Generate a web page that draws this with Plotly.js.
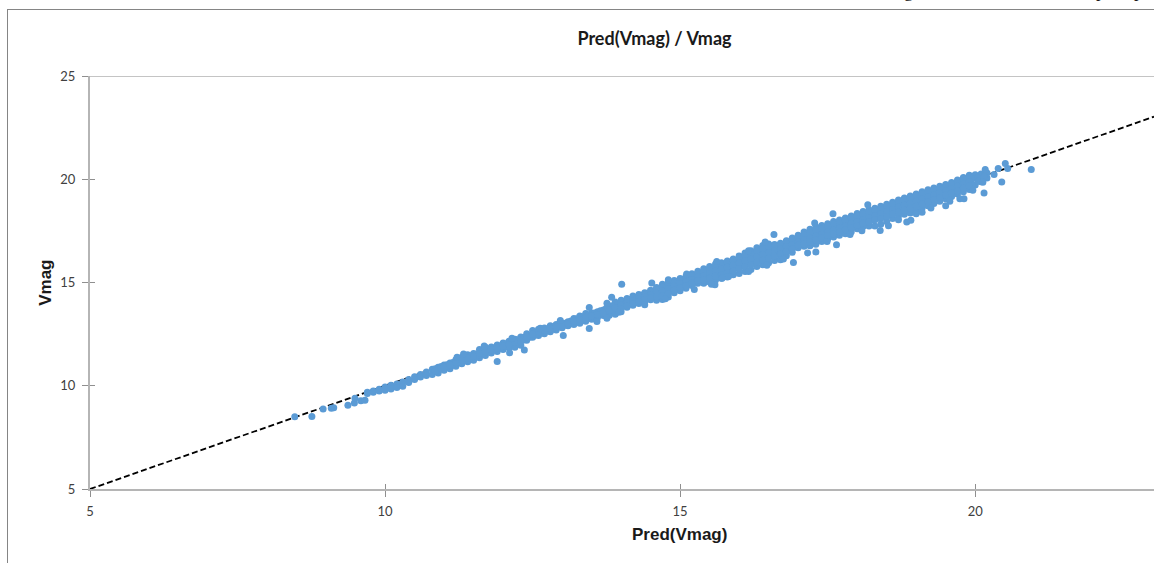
<!DOCTYPE html>
<html>
<head>
<meta charset="utf-8">
<script src="https://cdn.plot.ly/plotly-3.0.1.min.js"></script>
<style>
html,body{margin:0;padding:0;background:#fff;width:1154px;height:563px;overflow:hidden}
#frame{position:absolute;left:7px;top:9px;width:1147px;height:554px;border-left:1px solid #858585;border-top:1px solid #858585;box-sizing:border-box}
#chart{position:absolute;left:0;top:0;width:1154px;height:563px}
</style>
</head>
<body>
<div id="frame"></div>
<div id="chart"></div>
<script>
const chartTitle = "Pred(Vmag) / Vmag";
const xTitle = "Pred(Vmag)";
const yTitle = "Vmag";
const refX = [5, 23.03];
const refY = [5, 23.03];

const edgeX = [9.7,9.8,9.9,10.0,10.1,10.2,10.3,10.4,10.5,10.6,10.7,10.8,10.9,11.0,11.1,11.2,11.3,11.4,11.5,11.6,11.7,11.8,11.9,12.0,12.1,12.2,12.3,12.4,12.5,12.6,12.7,12.8,12.9,13.0,13.1,13.2,13.3,13.4,13.5,13.6,13.7,13.8,13.9,14.0,14.1,14.2,14.3,14.4,14.5,14.6,14.7,14.8,14.9,15.0,15.1,15.2,15.3,15.4,15.5,15.6,15.7,15.8,15.9,16.0,16.1,16.2,16.3,16.4,16.5,16.6,16.7,16.8,16.9,17.0,17.1,17.2,17.3,17.4,17.5,17.6,17.7,17.8,17.9,18.0,18.1,18.2,18.3,18.4,18.5,18.6,18.7,18.8,18.9,19.0,19.1,19.2,19.3,19.4,19.5,19.6,19.7,19.8,19.9,20.0,20.1,20.2];
const upperY = [9.68,9.75,9.83,9.94,10.03,10.08,10.18,10.3,10.44,10.55,10.67,10.8,10.9,11.0,11.1,11.26,11.38,11.5,11.56,11.76,11.86,11.88,11.97,12.07,12.16,12.25,12.36,12.52,12.67,12.74,12.8,12.9,12.97,13.02,13.1,13.26,13.38,13.5,13.52,13.58,13.67,13.86,14.05,14.14,14.22,14.35,14.42,14.5,14.62,14.76,14.92,15.02,15.1,15.19,15.3,15.42,15.54,15.66,15.78,15.89,15.96,16.04,16.14,16.28,16.43,16.54,16.68,16.79,16.86,16.84,16.9,17.02,17.16,17.29,17.44,17.58,17.7,17.76,17.84,17.95,18.03,18.12,18.22,18.34,18.44,18.52,18.6,18.69,18.79,18.89,18.99,19.09,19.19,19.29,19.39,19.49,19.58,19.66,19.74,19.84,19.96,20.08,20.19,20.22,20.25,20.3];
const lowerY = [9.62,9.68,9.74,9.78,9.84,9.92,9.97,10.16,10.3,10.42,10.5,10.55,10.62,10.75,10.82,10.95,11.06,11.16,11.24,11.36,11.46,11.58,11.66,11.76,11.84,11.86,11.96,12.2,12.35,12.43,12.52,12.61,12.7,12.81,12.9,12.97,13.03,13.12,13.22,13.3,13.4,13.42,13.46,13.58,13.8,13.9,13.98,14.06,14.16,14.14,14.18,14.3,14.5,14.6,14.72,14.86,14.96,14.96,15.02,15.12,15.2,15.27,15.37,15.44,15.53,15.63,15.77,15.86,15.96,16.07,16.17,16.3,16.46,16.68,16.75,16.78,16.85,16.98,17.11,17.2,17.29,17.36,17.46,17.6,17.71,17.74,17.74,17.82,17.96,18.1,18.22,18.3,18.36,18.47,18.6,18.72,18.82,18.94,19.06,19.16,19.28,19.4,19.5,19.72,19.88,20.06];

const midX = [10.85,10.95,11.05,11.15,11.25,11.35,11.45,11.55,11.65,11.75,11.85,11.95,12.05,12.15,12.25,12.35,12.45,12.55,12.65,12.75,12.85,12.95,13.05,13.15,13.25,13.35,13.45,13.55,13.65,13.75,13.85,13.95,14.05,14.15,14.25,14.35,14.45,14.55,14.65,14.75,14.85,14.95,15.05,15.15,15.25,15.35,15.45,15.55,15.65,15.75,15.85,15.95,16.05,16.15,16.25,16.35,16.45,16.55,16.65,16.75,16.85,16.95,17.05,17.15,17.25,17.35,17.45,17.55,17.65,17.75,17.85,17.95,18.05,18.15,18.25,18.35,18.45,18.55,18.65,18.75,18.85,18.95,19.05,19.15,19.25,19.35,19.45,19.55,19.65,19.75,19.85,19.95,20.05,20.15];
const midHighY = [10.82,10.93,11.02,11.13,11.24,11.34,11.45,11.54,11.65,11.74,11.83,11.93,12.03,12.13,12.23,12.34,12.45,12.56,12.66,12.75,12.85,12.94,13.03,13.13,13.24,13.34,13.43,13.52,13.63,13.75,13.87,13.98,14.08,14.18,14.27,14.38,14.48,14.58,14.69,14.8,14.9,15.0,15.11,15.22,15.32,15.42,15.53,15.63,15.73,15.83,15.93,16.03,16.13,16.24,16.34,16.44,16.54,16.62,16.72,16.83,16.94,17.04,17.14,17.25,17.35,17.44,17.54,17.64,17.73,17.83,17.93,18.03,18.13,18.23,18.32,18.42,18.52,18.62,18.72,18.83,18.93,19.03,19.13,19.23,19.33,19.43,19.53,19.63,19.73,19.83,19.93,20.02,20.08,20.14];
const midLowY = [10.72,10.82,10.92,11.03,11.14,11.24,11.34,11.44,11.54,11.65,11.74,11.83,11.93,12.03,12.12,12.22,12.35,12.46,12.55,12.65,12.74,12.84,12.93,13.03,13.13,13.22,13.31,13.4,13.5,13.6,13.68,13.78,13.9,14.0,14.1,14.2,14.3,14.38,14.46,14.55,14.66,14.76,14.84,14.95,15.05,15.14,15.24,15.33,15.43,15.52,15.62,15.72,15.82,15.92,16.02,16.12,16.22,16.32,16.42,16.52,16.63,16.74,16.84,16.94,17.03,17.12,17.22,17.32,17.42,17.52,17.62,17.72,17.82,17.92,18.02,18.11,18.21,18.31,18.41,18.51,18.61,18.72,18.82,18.92,19.02,19.12,19.22,19.32,19.42,19.52,19.62,19.75,19.9,20.1];

const thinFillX = [11.0,11.1,11.2,11.3,11.4,11.5,11.6,11.7,11.8,11.9,12.0,12.1,12.2,12.3,12.4,12.5,12.6,12.7,12.8,12.9,13.0,13.1,13.2,13.3,13.4,13.5,13.6,13.7,13.8,13.9];
const thinFillY = [10.9,11.0,11.12,11.24,11.33,11.42,11.56,11.65,11.74,11.83,11.92,12.0,12.1,12.17,12.36,12.5,12.6,12.67,12.76,12.84,12.92,13.01,13.12,13.2,13.31,13.38,13.45,13.54,13.66,13.78];

const fillX = [14.0,14.1,14.2,14.3,14.4,14.5,14.6,14.7,14.8,14.9,15.0,15.1,15.2,15.3,15.4,15.5,15.6,15.7,15.8,15.9,16.0,16.1,16.2,16.3,16.4,16.5,16.6,16.7,16.8,16.9,17.0,17.1,17.2,17.3,17.4,17.5,17.6,17.7,17.8,17.9,18.0,18.1,18.2,18.3,18.4,18.5,18.6,18.7,18.8,18.9,19.0,19.1,19.2,19.3,19.4,19.5,19.6,19.7,19.8,19.9];
const fillHighY = [14.02,14.12,14.24,14.32,14.42,14.54,14.66,14.78,14.9,15.0,15.1,15.22,15.34,15.46,15.56,15.68,15.8,15.88,15.98,16.08,16.2,16.32,16.42,16.52,16.64,16.74,16.76,16.84,16.96,17.08,17.2,17.3,17.42,17.54,17.62,17.72,17.82,17.92,18.02,18.12,18.22,18.32,18.42,18.5,18.6,18.7,18.8,18.9,19.0,19.1,19.2,19.3,19.4,19.5,19.58,19.68,19.78,19.88,20.0,20.1];
const fillMidY = [13.9,14.02,14.12,14.2,14.3,14.4,14.48,14.58,14.7,14.82,14.94,15.04,15.15,15.26,15.34,15.44,15.54,15.64,15.74,15.84,15.94,16.04,16.14,16.24,16.34,16.44,16.54,16.64,16.74,16.84,16.96,17.06,17.14,17.24,17.34,17.44,17.54,17.64,17.74,17.84,17.94,18.04,18.14,18.24,18.34,18.44,18.54,18.64,18.74,18.84,18.94,19.04,19.14,19.24,19.34,19.44,19.54,19.66,19.78,19.88];
const fillLowY = [13.74,13.88,13.98,14.08,14.16,14.26,14.3,14.36,14.46,14.64,14.76,14.86,14.98,15.1,15.12,15.2,15.3,15.38,15.46,15.56,15.66,15.76,15.86,15.98,16.08,16.18,16.28,16.38,16.5,16.62,16.8,16.88,16.95,17.04,17.15,17.28,17.36,17.46,17.56,17.66,17.76,17.88,17.96,18.04,18.1,18.2,18.3,18.4,18.5,18.6,18.7,18.8,18.92,19.02,19.12,19.24,19.34,19.44,19.58,19.68];

const bumpX = [11.68,11.33,11.22,12.15,12.63,12.97,13.84,13.76,12.36,12.11,13.76,13.59,14.8,15.11,15.62,16.16,16.44,14.75,14.4,13.96,16.16,16.47,16.7,15.71,16.75,17.49,17.88,18.08,18.7,19.0,19.25,19.96,20.13,19.57];
const bumpY = [11.93,11.54,11.38,12.3,12.79,13.16,14.29,14.0,11.73,11.6,13.27,13.11,15.13,15.41,16.02,16.54,16.96,14.21,13.92,13.56,15.53,15.83,16.1,15.21,16.14,16.99,17.32,17.51,18.04,18.33,18.61,19.47,19.85,18.93];

const outlierX = [8.47,8.76,8.95,9.13,9.09,9.37,9.48,9.49,9.59,9.66,11.9,13.02,13.46,13.46,14.01,14.52,15.24,15.59,15.53,15.82,16.59,16.92,17.16,17.3,17.28,17.59,17.65,18.18,18.39,18.53,18.84,18.91,19.1,19.5,19.74,19.81,20.15,20.45,20.32,20.39,20.51,20.55,20.17,20.95];
const outlierY = [8.5,8.51,8.87,8.93,8.91,9.06,9.17,9.39,9.27,9.3,11.17,12.43,13.79,12.77,14.92,14.97,14.66,14.89,14.92,15.29,17.33,15.97,16.43,16.48,17.88,18.33,16.83,18.77,17.52,17.75,17.93,18.01,18.4,18.72,19.06,19.06,19.34,19.87,20.23,20.52,20.76,20.52,20.47,20.47];

const predVmag = [].concat(edgeX, edgeX, midX, midX, thinFillX, fillX, fillX, fillX, bumpX, outlierX);
const vmag = [].concat(upperY, lowerY, midHighY, midLowY, thinFillY, fillHighY, fillMidY, fillLowY, bumpY, outlierY);

const xMin = 5, xMax = 23.03, yMin = 5, yMax = 25;
const xTicks = [5,10,15,20];
const yTicks = [5,10,15,20,25];
const axisGrey = "#b5b5b5", tickGrey = "#8f8f8f", textGrey = "#404040";

const traces = [
  {x: refX, y: refY, mode: "lines", type: "scatter", xaxis: "x", yaxis: "y",
   line: {color: "#000000", width: 1.8, dash: "6px,3px"}, hoverinfo: "skip"},
  {x: predVmag, y: vmag, mode: "markers", type: "scatter", xaxis: "x2", yaxis: "y2",
   marker: {color: "#5b9bd5", size: 7, line: {width: 0}}}
];

const tickFont = {family: "Lato, 'Open Sans', sans-serif", size: 13, color: textGrey};
const serif = {family: "'Liberation Serif', serif", size: 18, color: "#111111"};
const axisTitleFont = {family: "'Liberation Sans', Arial, sans-serif", size: 17, color: "#1a1a1a"};

const layout = {
  width: 1154, height: 563,
  margin: {l: 89.7, r: 0, t: 76.3, b: 74.3, pad: 0},
  paper_bgcolor: "rgba(0,0,0,0)", plot_bgcolor: "rgba(0,0,0,0)",
  showlegend: false,
  title: {text: "<b>" + chartTitle + "</b>", font: {family: "Lato, sans-serif", size: 18, color: "#1a1a1a"},
          x: 654.5/1154, xanchor: "center", y: 1-39/563, yanchor: "middle"},
  xaxis: {range: [xMin, xMax], tickmode: "array", tickvals: xTicks, ticks: "outside", ticklen: 6, tickwidth: 1, tickcolor: tickGrey,
          showgrid: false, zeroline: false, showline: true, linecolor: axisGrey, linewidth: 2, tickfont: tickFont, ticklabelstandoff: 3},
  yaxis: {range: [yMin, yMax], tickmode: "array", tickvals: yTicks, ticks: "outside", ticklen: 6, tickwidth: 1, tickcolor: tickGrey,
          showgrid: false, zeroline: false, showline: true, linecolor: axisGrey, linewidth: 2, tickfont: tickFont, ticklabelstandoff: 4},
  xaxis2: {range: [xMin, xMax], overlaying: "x", anchor: "y2", tickmode: "array", tickvals: xTicks, ticks: "inside", ticklen: 5, tickwidth: 1, tickcolor: tickGrey,
           showticklabels: false, showgrid: false, zeroline: false, showline: false},
  yaxis2: {range: [yMin, yMax], overlaying: "y", anchor: "x2", tickmode: "array", tickvals: yTicks.slice(0,-1), ticks: "inside", ticklen: 5, tickwidth: 1, tickcolor: tickGrey,
           showticklabels: false, showgrid: false, zeroline: false, showline: false},
  shapes: [{type: "line", xref: "paper", x0: 0, x1: 1, yref: "y", y0: yMax, y1: yMax, line: {color: "#8a8a8a", width: 1.2}}],
  annotations: [
    {text: "<b>" + xTitle + "</b>", xref: "x", x: 15, xshift: -1, yref: "paper", y: -45.5/412.4, xanchor: "center", yanchor: "middle", showarrow: false, font: axisTitleFont},
    {text: "<b>" + yTitle + "</b>", xref: "paper", x: (45-89.7)/1064.3, yref: "y", y: 15, textangle: -90, xanchor: "center", yanchor: "middle", showarrow: false, font: axisTitleFont},
    {text: "g", xref: "paper", x: (908-89.7)/1064.3, yref: "paper", y: (488.7-3)/412.4, xanchor: "center", yanchor: "bottom", showarrow: false, font: serif},
    {text: "p", xref: "paper", x: (1100-89.7)/1064.3, yref: "paper", y: (488.7-3)/412.4, xanchor: "center", yanchor: "bottom", showarrow: false, font: serif},
    {text: "p", xref: "paper", x: (1138-89.7)/1064.3, yref: "paper", y: (488.7-3)/412.4, xanchor: "center", yanchor: "bottom", showarrow: false, font: serif}
  ]
};

Plotly.newPlot("chart", traces, layout, {displayModeBar: false, staticPlot: true});
</script>
</body>
</html>
